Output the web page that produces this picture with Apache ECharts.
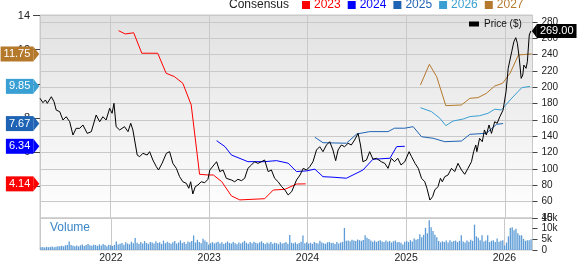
<!DOCTYPE html>
<html><head><meta charset="utf-8">
<script src="https://cdn.jsdelivr.net/npm/echarts@6/dist/echarts.min.js"></script>
<style>html,body{margin:0;padding:0;background:#fff}#c{width:578px;height:264px}</style>
</head><body><div id="c"></div>
<script>
// ---- x range ----
const xMin = '2021-04-15';
const xMax = '2026-04-13';

// ---- legend / series names ----
const epsYears = ['2023', '2024', '2025', '2026', '2027'];
const epsColors = ['#ff0000', '#0000ff', '#1f63b4', '#3aa0d4', '#b5792c'];

// ---- price (black line) ----
const priceDates = ['2021-04-15','2021-04-26','2021-05-05','2021-05-12','2021-05-27','2021-06-06','2021-06-14','2021-06-27','2021-07-09','2021-07-21',
'2021-08-03','2021-08-15','2021-08-27','2021-09-09','2021-09-21','2021-10-07','2021-10-22','2021-11-09','2021-11-22','2021-12-04',
'2021-12-16','2021-12-29','2022-01-07','2022-01-14','2022-01-22','2022-02-04','2022-02-22','2022-03-07','2022-03-17','2022-03-25',
'2022-04-10','2022-04-19','2022-05-01','2022-05-17','2022-05-26','2022-06-07','2022-06-20','2022-06-28','2022-07-11','2022-07-27',
'2022-08-08','2022-08-20','2022-09-02','2022-09-14','2022-09-26','2022-10-09','2022-10-18','2022-10-25','2022-11-02','2022-11-11',
'2022-11-21','2022-12-03','2022-12-16','2022-12-28','2023-01-04','2023-01-29','2023-02-10','2023-02-22','2023-03-06','2023-03-25',
'2023-04-06','2023-04-18','2023-05-01','2023-05-13','2023-05-25','2023-06-07','2023-06-19','2023-07-01','2023-07-14','2023-07-26',
'2023-08-08','2023-08-20','2023-09-01','2023-09-14','2023-09-27','2023-10-09','2023-10-21','2023-11-03','2023-11-21','2023-12-04',
'2023-12-16','2023-12-28','2024-01-09','2024-01-21','2024-02-03','2024-02-15','2024-02-27','2024-03-11','2024-03-23','2024-04-04',
'2024-04-14','2024-04-23','2024-05-05','2024-05-17','2024-05-30','2024-06-11','2024-06-23','2024-07-06','2024-07-15','2024-07-24',
'2024-08-06','2024-08-18','2024-08-30','2024-09-12','2024-09-30','2024-10-13','2024-10-25','2024-11-06','2024-11-18','2024-11-30',
'2024-12-12','2024-12-26','2025-01-11','2025-01-20','2025-02-02','2025-02-14','2025-02-26','2025-03-10','2025-03-18','2025-03-29',
'2025-04-08','2025-04-16','2025-04-28','2025-05-07','2025-05-14','2025-05-23','2025-06-04','2025-06-17','2025-06-29','2025-07-11',
'2025-07-24','2025-08-05','2025-08-17','2025-08-30','2025-09-07','2025-09-15','2025-09-19','2025-09-29','2025-10-09','2025-10-17',
'2025-10-24','2025-11-03','2025-11-12','2025-11-24','2025-12-03','2025-12-13','2025-12-25','2026-01-05','2026-01-13','2026-01-26',
'2026-02-03','2026-02-10','2026-02-16','2026-02-23','2026-03-02','2026-03-08','2026-03-12','2026-03-20','2026-03-25','2026-04-01',
'2026-04-07'];
const priceValues = [186.6,181.2,184.5,180.4,188.5,182.4,172.2,170.2,160.0,164.0,
157.9,141.6,149.8,149.8,153.9,143.6,145.7,166.1,157.9,164.0,
160.0,174.3,168.2,180.4,151.8,147.8,151.8,145.7,156.0,147.8,
117.1,115.1,119.2,117.1,121.2,111.0,102.8,98.8,106.9,119.2,
121.2,106.9,100.8,90.6,84.4,82.4,76.4,84.4,69.4,78.4,
80.4,84.4,83.2,87.4,98.8,108.9,96.8,98.8,88.6,86.5,
84.4,87.4,85.7,88.6,100.8,104.9,108.9,106.9,108.9,111.0,
96.8,98.8,88.6,84.4,78.4,74.3,68.2,72.2,86.5,92.6,
100.8,98.8,102.8,108.9,123.3,127.3,121.2,129.4,133.4,123.3,
110.2,123.3,129.4,127.3,131.5,129.4,135.5,143.6,129.4,108.9,
111.0,121.2,112.0,113.1,108.9,106.9,100.8,113.1,108.9,113.1,
104.9,108.9,121.2,115.1,106.9,100.8,88.6,84.4,76.4,62.0,
66.1,74.3,78.4,88.6,84.4,90.6,92.6,100.8,96.8,106.9,
98.8,93.5,100.8,108.9,121.2,129.4,121.2,137.6,133.4,147.8,
141.6,153.9,143.6,157.9,156.0,164.0,172.2,194.7,223.3,243.6,
255.9,260.8,253.9,235.5,211.0,215.1,227.3,223.3,231.4,264.1,
269.0];

// ---- consensus EPS estimates ----
const eps2023Dates = ['2022-01-31','2022-02-25','2022-03-28','2022-04-27','2022-06-25','2022-07-26','2022-08-26','2022-09-26','2022-10-27','2022-11-27','2022-12-28','2023-01-17','2023-02-17','2023-03-25','2023-04-25','2023-07-26','2023-08-27','2023-10-09','2023-11-21','2023-12-25'];
const eps2023Values = [13.11,12.92,12.99,11.79,11.79,10.62,10.42,10.03,8.76,4.70,4.66,4.66,4.27,3.43,3.20,3.27,3.78,3.82,4.13,4.14];

const eps2024Dates = ['2023-01-29','2023-03-01','2023-03-25','2023-05-25','2023-07-26','2023-09-08','2023-10-21','2023-11-21','2023-12-28','2024-01-28','2024-02-27','2024-04-04','2024-05-24','2024-07-24','2024-08-30','2024-11-01','2024-11-26','2024-12-26'];
const eps2024Values = [6.67,6.32,5.83,5.44,5.44,5.50,5.35,4.86,4.90,5.00,4.56,4.53,4.47,4.95,5.58,5.64,6.32,6.34];

const eps2025Dates = ['2024-01-28','2024-02-27','2024-05-24','2024-07-01','2024-08-18','2024-10-25','2024-11-18','2024-12-26','2025-01-26','2025-02-26','2025-04-10','2025-05-23','2025-07-24','2025-08-24','2025-10-24','2025-12-01','2025-12-25'];
const eps2025Values = [6.87,6.55,6.52,7.06,7.20,7.20,7.40,7.40,7.49,6.90,6.81,6.61,6.65,7.04,7.10,7.63,7.67];

const eps2026Dates = ['2025-02-22','2025-04-04','2025-05-05','2025-05-27','2025-06-23','2025-07-31','2025-08-24','2025-09-29','2025-10-30','2025-11-24','2025-12-19','2026-01-20','2026-03-04','2026-04-04'];
const eps2026Values = [8.60,8.37,7.98,7.55,7.82,7.94,8.08,8.13,8.27,8.51,8.47,9.05,9.77,9.85];

const eps2027Dates = ['2025-02-22','2025-03-27','2025-04-23','2025-05-27','2025-07-24','2025-08-24','2025-09-23','2025-10-24','2025-11-24','2025-12-23','2026-01-20','2026-02-20','2026-04-10'];
const eps2027Values = [9.93,11.14,10.42,8.72,8.76,9.15,9.19,9.44,9.87,10.03,10.62,11.69,11.75];

// ---- weekly volume (thousands) ----
const volStart = [2021, 3, 16];
const volumeValues = [
1.3,1.4,1.2,1.5,1.3,1.4,1.6,1.3,1.5,1.7,
1.8,2.0,1.7,2.2,2.4,4.0,2.3,2.0,1.8,2.1,
1.7,2.2,2.6,1.9,2.4,2.8,2.2,2.0,2.5,2.3,
1.9,2.6,2.1,2.8,2.4,1.8,2.5,2.2,1.9,2.4,
4.0,2.6,2.9,3.3,2.5,3.6,3.0,2.7,3.9,3.2,
5.6,3.4,2.8,3.7,3.1,4.2,3.3,2.9,3.8,3.5,
3.0,4.1,3.3,3.6,2.8,4.4,3.2,3.9,3.4,2.9,
3.6,4.2,3.0,3.5,4.5,3.3,3.8,2.9,4.0,3.6,
4.2,6.8,3.5,4.8,3.7,3.2,5.3,4.4,3.8,2.6,
3.2,3.7,3.0,3.5,3.9,3.1,3.6,2.8,3.4,4.0,
3.3,3.0,3.8,3.2,2.7,3.5,3.1,3.6,4.3,3.4,
2.9,3.7,3.2,3.9,3.4,3.0,3.6,4.1,3.3,2.8,
3.5,3.1,3.8,2.9,3.4,3.2,2.7,3.6,3.0,3.3,
3.8,2.9,7.0,3.4,3.1,3.6,2.8,3.3,3.9,6.8,
3.2,3.6,3.0,3.4,2.9,3.8,3.3,3.1,4.3,3.5,
3.2,2.9,3.6,3.8,3.3,3.4,2.8,3.7,3.1,3.5,
3.8,10.3,4.3,4.5,4.1,4.8,4.4,4.2,4.9,4.6,
4.3,4.7,6.9,5.7,5.2,4.5,3.9,4.4,3.8,4.2,
4.6,4.0,3.7,4.5,3.9,4.2,3.5,4.1,4.4,3.6,
3.8,3.4,2.6,3.9,4.2,3.7,4.6,4.0,5.4,4.8,
5.2,7.4,6.0,7.1,10.4,7.8,14.0,10.7,8.9,7.1,
6.0,4.2,3.6,4.1,3.8,4.4,3.5,4.6,3.9,4.2,
4.4,3.7,4.3,6.9,4.0,3.5,4.5,3.9,4.8,4.3,
11.9,6.4,5.7,4.6,6.9,4.0,4.5,6.9,3.7,4.3,
4.6,3.8,5.4,3.9,4.3,4.6,2.1,3.5,6.4,10.3,
10.7,9.2,10.0,7.9,6.9,6.9,5.2,4.3,4.6,4.6,5.0];

// ---- axis tick labels ----
const priceTicks = {min: 40, interval: 20};
const epsTickLabels = [4, 6, 8, 10, 12, 14];
const volumeTicks = {min: 0, max: 15, interval: 5};

// ---------------- build ----------------
const zip = (d, v) => d.map((x, i) => [x, v[i]]);
const volumeData = volumeValues.map((v, i) => {
  const d = new Date(volStart[0], volStart[1], volStart[2] + 7 * i);
  return [d.getTime(), v];
});
const epsSeriesData = [
  zip(eps2023Dates, eps2023Values), zip(eps2024Dates, eps2024Values),
  zip(eps2025Dates, eps2025Values), zip(eps2026Dates, eps2026Values),
  zip(eps2027Dates, eps2027Values)
];
const FONT = '"Liberation Sans", Arial, sans-serif';
const GRID_COLOR = '#c9c9c9';

function epsFlag(vals, color) {
  const last = vals[vals.length - 1];
  return {
    silent: true, animation: false,
    symbol: 'path://M0,0L6,7.5L0,15Z', symbolSize: [6, 15], symbolOffset: [-3.7, 0],
    itemStyle: {color: color},
    label: {show: true, position: 'left', distance: 0, formatter: last.toFixed(2),
      backgroundColor: color, color: '#fff', fontSize: 11, fontFamily: FONT,
      padding: [2, 3, 1, 3], lineHeight: 12},
    data: [{coord: [xMin, last], value: last}]
  };
}

const epsValsList = [eps2023Values, eps2024Values, eps2025Values, eps2026Values, eps2027Values];
const series = epsYears.map((name, k) => ({
  name: name, type: 'line', xAxisIndex: 0, yAxisIndex: 1,
  data: epsSeriesData[k], showSymbol: false, symbol: 'none',
  lineStyle: {width: 1, color: epsColors[k]}, itemStyle: {color: epsColors[k]},
  z: 3, animation: false,
  markPoint: epsFlag(epsValsList[k], epsColors[k])
}));
const lastPrice = priceValues[priceValues.length - 1];
series.push({
  name: 'Price ($)', type: 'line', xAxisIndex: 0, yAxisIndex: 0,
  data: zip(priceDates, priceValues), showSymbol: false, symbol: 'none',
  lineStyle: {width: 1, color: '#000'}, itemStyle: {color: '#000'}, z: 4, animation: false,
  markPoint: {
    silent: true, animation: false,
    symbol: 'path://M5,0L0,7L5,14Z', symbolSize: [5, 14], symbolOffset: [3.5, 0],
    itemStyle: {color: '#000'},
    label: {show: true, position: 'right', distance: 0, formatter: lastPrice.toFixed(2),
      backgroundColor: '#000', color: '#fff', fontSize: 11, fontFamily: FONT,
      padding: [1, 3, 1, 3], lineHeight: 12},
    data: [{coord: [priceDates[priceDates.length - 1], lastPrice], value: lastPrice}]
  }
});
series.push({
  name: 'Volume', type: 'bar', xAxisIndex: 1, yAxisIndex: 2,
  data: volumeData, barWidth: 1.3, itemStyle: {color: '#5c9bd6'}, animation: false
});

const YEAR = 365 * 86400000;
const xCommon = {
  type: 'time', min: xMin, max: xMax, minInterval: YEAR, maxInterval: YEAR * 1.01,
  axisLine: {show: false}, axisTick: {show: false},
  splitLine: {show: true, lineStyle: {color: GRID_COLOR, width: 1}}
};

const option = {
  animation: false,
  textStyle: {fontFamily: FONT},
  title: [
    {text: 'Consensus', left: 229, top: -1, padding: 0,
      textStyle: {fontSize: 12, fontWeight: 'normal', color: '#222', fontFamily: FONT}},
    {text: 'Volume', left: 50, top: 222, padding: 0,
      textStyle: {fontSize: 12, fontWeight: 'normal', color: '#3a86c8', fontFamily: FONT}}
  ],
  legend: [
    {data: epsYears.map((n, k) => ({name: n, textStyle: {color: epsColors[k]}})),
      left: 302, top: -1, padding: 0, itemGap: 7, itemWidth: 8, itemHeight: 8, icon: 'rect',
      selectedMode: false, textStyle: {fontSize: 12, fontFamily: FONT, padding: [0, 0, 0, -1]}},
    {data: ['Price ($)'], left: 469, top: 19, padding: 0, itemWidth: 10, itemHeight: 5, icon: 'rect',
      selectedMode: false, textStyle: {fontSize: 10, color: '#111', fontFamily: FONT}}
  ],
  grid: [
    {left: 40, right: 45.5, top: 15, height: 203, show: true, borderColor: GRID_COLOR, borderWidth: 1,
      backgroundColor: {type: 'linear', x: 0, y: 0, x2: 0, y2: 1,
        colorStops: [{offset: 0, color: '#e1e1e1'}, {offset: 1, color: '#ffffff'}]}},
    {left: 40, right: 45.5, top: 218, height: 35.3, show: true, borderColor: GRID_COLOR, borderWidth: 1,
      backgroundColor: '#fff'}
  ],
  xAxis: [
    Object.assign({}, xCommon, {gridIndex: 0, axisLabel: {show: false}}),
    Object.assign({}, xCommon, {gridIndex: 1,
      axisLabel: {show: true, margin: 3, fontSize: 10.5, color: '#222', showMinLabel: false, showMaxLabel: false,
        formatter: function (v) { const d = new Date(v); return (d.getMonth() === 0 && d.getDate() === 1) ? String(d.getFullYear()) : ''; }}})
  ],
  yAxis: [
    {type: 'value', gridIndex: 0, position: 'right', min: priceTicks.min, max: 288.57, interval: priceTicks.interval,
      axisLine: {show: false},
      axisTick: {show: true, length: 5, lineStyle: {color: '#444'}},
      axisLabel: {show: true, margin: 9, fontSize: 10, color: '#222', showMaxLabel: false},
      splitLine: {show: true, lineStyle: {color: GRID_COLOR, width: 1}}},
    {type: 'value', gridIndex: 0, position: 'left', min: 2.14, max: 14.03,
      axisLine: {show: false},
      axisTick: {show: true, length: 7, customValues: epsTickLabels, lineStyle: {color: '#444'}},
      axisLabel: {show: true, margin: 10, fontSize: 11, color: '#222', customValues: epsTickLabels},
      splitLine: {show: false}},
    {type: 'value', gridIndex: 1, position: 'right', min: volumeTicks.min, max: volumeTicks.max, interval: volumeTicks.interval,
      axisLine: {show: false},
      axisTick: {show: true, length: 5, lineStyle: {color: '#444'}},
      axisLabel: {show: true, margin: 9, fontSize: 10, color: '#222',
        formatter: v => v === 0 ? '0' : v + 'k'},
      splitLine: {show: false}}
  ],
  series: series
};
const chart = echarts.init(document.getElementById('c'), null, {renderer: 'canvas'});
chart.setOption(option);
</script></body></html>
